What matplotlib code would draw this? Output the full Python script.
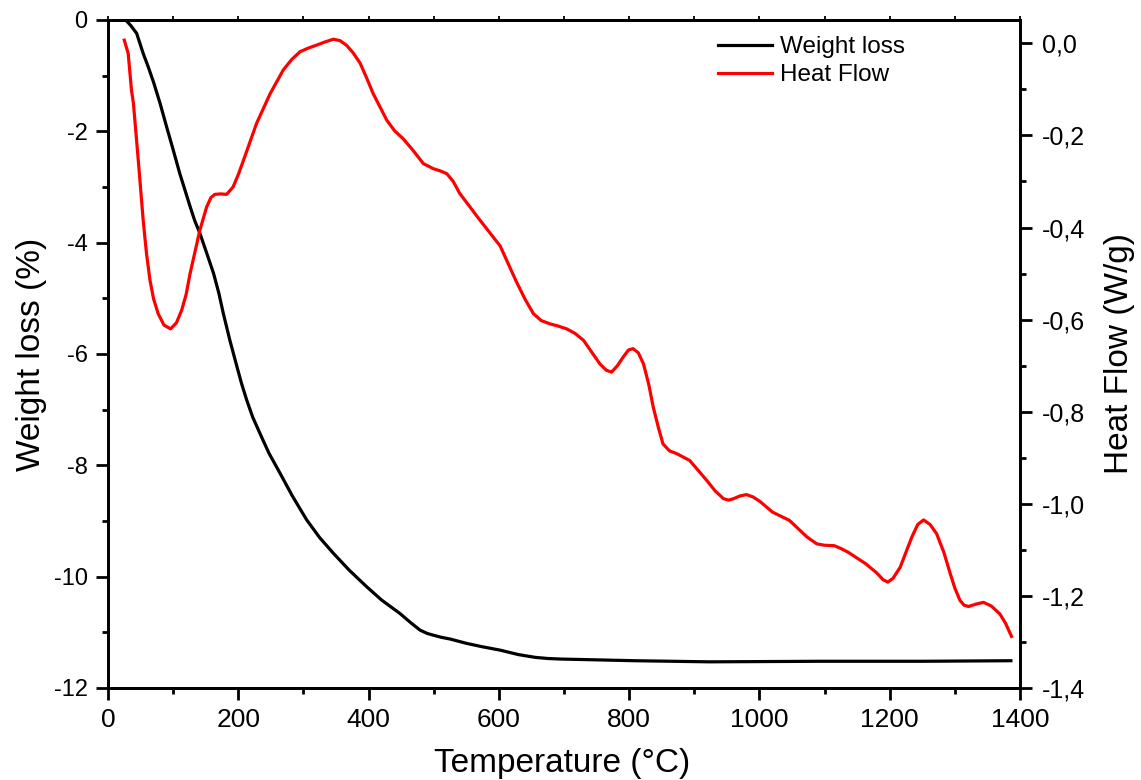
import numpy as np
import matplotlib
matplotlib.use("Agg")
import matplotlib.pyplot as plt
from matplotlib.ticker import MultipleLocator, FuncFormatter

plt.rcParams['font.family'] = ['Liberation Sans', 'DejaVu Sans']
plt.rcParams['axes.unicode_minus'] = False

# Weight loss (left axis)
wl_temp = [22, 28, 35, 44, 54, 62, 70, 80, 90, 100, 110, 118, 126, 133, 141, 151, 162,
           170, 177, 187, 198, 205, 213, 222, 233, 247, 264, 283, 305, 325, 346, 370,
           397, 420, 448, 465, 479, 490, 499, 512, 525, 551, 575, 602, 630, 656, 675,
           695, 809, 923, 1093, 1250, 1386]
wl_value = [0, -0.01, -0.1, -0.24, -0.6, -0.85, -1.12, -1.5, -1.92, -2.33, -2.75, -3.05,
            -3.35, -3.6, -3.83, -4.17, -4.55, -4.9, -5.27, -5.75, -6.23, -6.53, -6.83,
            -7.13, -7.42, -7.78, -8.14, -8.55, -8.98, -9.3, -9.58, -9.88, -10.18,
            -10.42, -10.66, -10.83, -10.96, -11.02, -11.05, -11.09, -11.12, -11.20,
            -11.26, -11.32, -11.40, -11.45, -11.47, -11.48, -11.51, -11.53, -11.52,
            -11.52, -11.51]

# Heat flow (right axis)
hf_temp = [25, 31, 36, 39, 46.5, 54, 59, 64.5, 70, 77, 86, 96, 105, 113, 120, 126, 141,
           151.5, 158, 164, 173, 182, 192, 200, 208, 228, 249, 269, 282, 295, 308, 320,
           333, 346, 356, 366, 376, 387, 397, 407, 428, 440, 453, 468, 484, 499, 510,
           520, 530, 540, 571, 602, 627, 640, 653, 665, 678, 691, 704, 717, 730, 755,
           765, 773, 782, 791, 799, 806, 814, 822, 830, 837, 845, 852, 862, 873, 893,
           919, 932, 945, 953, 960, 970, 980, 990, 1001, 1020, 1046, 1073, 1088, 1100,
           1115, 1125, 1136, 1163, 1180, 1190, 1197, 1205, 1216, 1225, 1234, 1243,
           1252, 1262, 1272, 1283, 1293, 1300, 1308, 1314, 1321, 1332, 1344, 1356,
           1369, 1378, 1387]
hf_value = [0.007, -0.022, -0.101, -0.13, -0.254, -0.384, -0.455, -0.515, -0.555,
            -0.587, -0.612, -0.62, -0.607, -0.58, -0.545, -0.50, -0.406, -0.355,
            -0.335, -0.328, -0.327, -0.328, -0.312, -0.285, -0.254, -0.174, -0.109,
            -0.058, -0.035, -0.018, -0.010, -0.004, 0.003, 0.009, 0.006, -0.004,
            -0.020, -0.043, -0.075, -0.109, -0.167, -0.190, -0.207, -0.232, -0.261,
            -0.272, -0.277, -0.283, -0.300, -0.326, -0.384, -0.44, -0.518, -0.555,
            -0.587, -0.602, -0.609, -0.614, -0.620, -0.630, -0.645, -0.696, -0.710,
            -0.714, -0.700, -0.681, -0.666, -0.663, -0.672, -0.696, -0.740, -0.790,
            -0.835, -0.870, -0.885, -0.891, -0.906, -0.949, -0.972, -0.989, -0.992,
            -0.989, -0.983, -0.980, -0.985, -0.995, -1.018, -1.036, -1.072, -1.087,
            -1.090, -1.091, -1.097, -1.105, -1.130, -1.150, -1.165, -1.170, -1.162,
            -1.138, -1.105, -1.072, -1.045, -1.035, -1.045, -1.065, -1.105, -1.152,
            -1.183, -1.210, -1.220, -1.223, -1.218, -1.214, -1.222, -1.239, -1.260,
            -1.288]

fig = plt.figure(figsize=(11.41, 7.80), dpi=100)
ax = fig.add_axes([108/1141, 92/780, 912/1141, 668/780])
ax2 = ax.twinx()

l1, = ax.plot(wl_temp, wl_value, color='black', lw=2.3, label='Weight loss',
              solid_joinstyle='round')
l2, = ax2.plot(hf_temp, hf_value, color='red', lw=2.3, label='Heat Flow',
               solid_joinstyle='round')

ax.set_xlim(0, 1400)
ax.set_ylim(-12, 0)
ax2.set_ylim(-1.4, 0.0507)

ax.xaxis.set_major_locator(MultipleLocator(200))
ax.xaxis.set_minor_locator(MultipleLocator(100))
ax.yaxis.set_major_locator(MultipleLocator(2))
ax.yaxis.set_minor_locator(MultipleLocator(1))
ax2.yaxis.set_major_locator(MultipleLocator(0.2))
ax2.yaxis.set_minor_locator(MultipleLocator(0.1))
ax2.yaxis.set_major_formatter(FuncFormatter(
    lambda v, p: f"{v:.1f}".replace('.', ',').replace('-0,0', '0,0')))

for a in (ax, ax2):
    for s in a.spines.values():
        s.set_linewidth(2.0)
    a.tick_params(which='major', length=8.6, width=2.0, direction='out')
    a.tick_params(which='minor', length=4.5, width=2.0, direction='out')
ax.tick_params(axis='x', which='major', labelsize=19, pad=6)
ax.tick_params(axis='y', which='major', labelsize=17, pad=6)
ax2.tick_params(axis='y', which='major', labelsize=18, pad=7)

sec = ax.secondary_xaxis('top')
sec.set_xticks(np.arange(0, 1401, 100))
sec.tick_params(length=3, width=1.3, direction='out', labeltop=False)
sec.spines['top'].set_linewidth(2.0)

ax.set_xlabel('Temperature (°C)', fontsize=24)
ax.set_ylabel('Weight loss (%)', fontsize=24)
ax2.set_ylabel('Heat Flow (W/g)', fontsize=24)
ax.xaxis.set_label_coords(0.498, -0.090)
ax.yaxis.set_label_coords(-0.067, 0.5)
ax2.yaxis.set_label_coords(1.092, 0.5)

fig.legend(handles=[l1, l2], loc='upper left', bbox_to_anchor=(718/1141, 1 - 36/780),
           frameon=False, fontsize=17.5, handlelength=2.22, handletextpad=0.33,
           labelspacing=0.26, borderpad=0, borderaxespad=0)

fig.savefig('out.png', dpi=100)
